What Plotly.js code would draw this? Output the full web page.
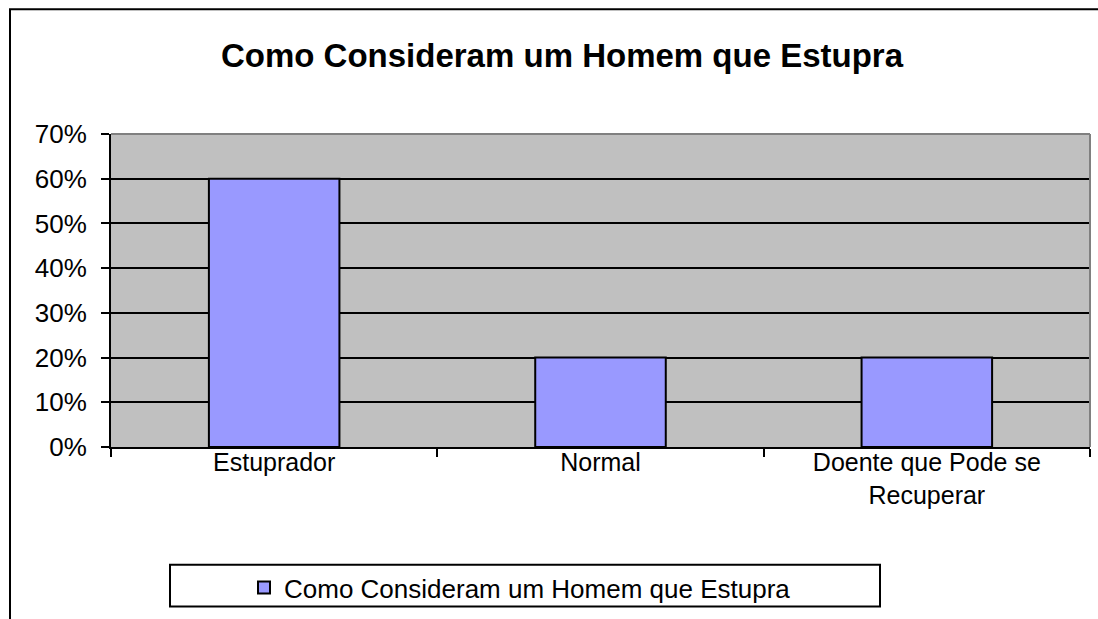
<!DOCTYPE html>
<html>
<head>
<meta charset="utf-8">
<script src="https://cdn.plot.ly/plotly-3.0.1.min.js"></script>
<style>html,body{margin:0;padding:0;background:#fff;}#chart{width:1098px;height:619px;}</style>
</head>
<body>
<div id="chart"></div>
<script>
const categories = ["Estuprador", "Normal", "Doente que Pode se<br>Recuperar"];
const values = [0.60, 0.20, 0.20];
const seriesName = "Como Consideram um Homem que Estupra";
const chartTitle = "Como Consideram um Homem que Estupra";

const W = 1098, H = 619;
const L = 111, R = 8, T = 134, B = 169;
const pw = W - L - R, ph = H - T - B;
const px = v => (v - L) / pw;
const py = v => (H - B - v) / ph;

const trace = {
  type: 'bar',
  x: categories,
  y: values,
  name: seriesName,
  width: 0.4,
  marker: {color: '#9999FF', line: {color: '#000000', width: 2}},
  showlegend: true,
  hoverinfo: 'none'
};

const layout = {
  width: W, height: H,
  margin: {l: L, r: R, t: T, b: B, pad: 0},
  paper_bgcolor: '#FFFFFF',
  plot_bgcolor: '#C0C0C0',
  font: {family: 'Liberation Sans, Arial, sans-serif', color: '#000000', size: 26},
  title: {
    text: '<b>' + chartTitle + '</b>',
    font: {family: 'Liberation Sans, Arial, sans-serif', size: 33, color: '#000000'},
    x: 562 / W, xref: 'container', xanchor: 'center',
    y: 1 - 55 / H, yref: 'container', yanchor: 'middle'
  },
  showlegend: true,
  legend: {
    orientation: 'h',
    x: px(520), xanchor: 'center',
    y: py(592), yanchor: 'middle',
    bgcolor: 'rgba(0,0,0,0)', borderwidth: 0,
    font: {size: 26, family: 'Liberation Sans, Arial, sans-serif'},
    itemwidth: 30
  },
  xaxis: {
    type: 'category',
    tickson: 'boundaries',
    ticks: 'outside', ticklen: 8, tickwidth: 2, tickcolor: '#000',
    showline: true, linecolor: '#000', linewidth: 2,
    showgrid: false, zeroline: false,
    tickfont: {size: 25},
    ticklabelstandoff: -8,
    fixedrange: true
  },
  yaxis: {
    range: [0, 0.7],
    dtick: 0.1, tick0: 0,
    tickformat: '.0%',
    ticks: 'outside', ticklen: 8, tickwidth: 2, tickcolor: '#000',
    showline: true, linecolor: '#000', linewidth: 2,
    showgrid: true, gridcolor: '#000', gridwidth: 2,
    zeroline: false,
    tickfont: {size: 26},
    ticklabelstandoff: 9,
    fixedrange: true
  },
  shapes: [
    {type: 'rect', xref: 'paper', yref: 'paper',
     x0: px(10), x1: px(1110), y0: py(640), y1: py(8),
     line: {color: '#000', width: 2}, fillcolor: 'rgba(0,0,0,0)', layer: 'above'},
    {type: 'line', xref: 'paper', yref: 'paper', x0: 0, x1: 1, y0: 1, y1: 1,
     line: {color: '#808080', width: 2}},
    {type: 'line', xref: 'paper', yref: 'paper', x0: 1, x1: 1, y0: 0, y1: 1,
     line: {color: '#808080', width: 2}},
    {type: 'rect', xref: 'paper', yref: 'paper',
     x0: px(170), x1: px(880), y0: py(611), y1: py(569),
     line: {color: '#000', width: 2}, fillcolor: 'rgba(0,0,0,0)'}
  ]
};

Plotly.newPlot('chart', [trace], layout, {displayModeBar: false, staticPlot: true});
</script>
</body>
</html>
